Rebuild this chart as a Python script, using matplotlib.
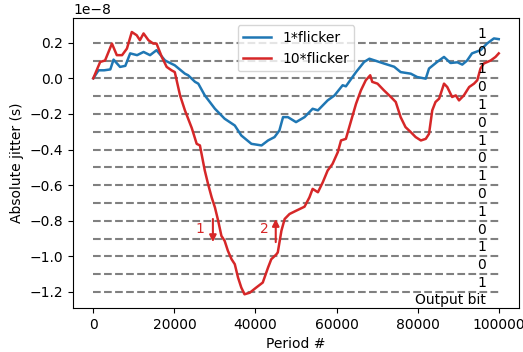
import matplotlib
matplotlib.use("Agg")
import matplotlib.pyplot as plt
import numpy as np

# ---- data (jitter in units of 1e-8 s) ----
period_1x = [0, 1300, 2700, 4200, 5000, 6600, 7900, 9100, 10800, 12400, 14000,
             15600, 17700, 20100, 22600, 23400, 25100, 25900, 27500, 30000,
             32400, 34900, 36500, 39000, 41500, 43100, 44700, 45900, 46800,
             48000, 50000, 52100, 54100, 55400, 57800, 59500, 61500, 62300,
             64800, 66800, 68100, 69300, 71700, 74200, 75800, 78300, 79900,
             82000, 82800, 84800, 86500, 88100, 89800, 91000, 92200, 93400,
             95500, 97100, 98800, 100000]
jitter_1x = [0, 0.045, 0.045, 0.05, 0.105, 0.064, 0.07, 0.14, 0.13, 0.148, 0.13,
             0.158, 0.10, 0.073, 0.026, 0.017, -0.02, -0.03, -0.096, -0.171,
             -0.227, -0.265, -0.321, -0.368, -0.377, -0.349, -0.33, -0.293, -0.218,
             -0.218, -0.246, -0.218, -0.171, -0.18, -0.124, -0.096, -0.039, -0.045,
             0.035, 0.092, 0.11, 0.101, 0.083, 0.065, 0.035, 0.026, 0.007,
             -0.002, 0.055, 0.092, 0.12, 0.086, 0.09, 0.077, 0.10, 0.14,
             0.158, 0.195, 0.224, 0.22]

period_10x = [0, 1700, 2900, 4600, 5800, 7100, 8300, 9500, 10700, 11500, 12400,
              13600, 14800, 15600, 16900, 18100, 19300, 20100, 21400, 22600,
              24300, 25500, 26300, 27500, 28300, 29200, 30000, 30800, 31600,
              32400, 33200, 34100, 34900, 35700, 36500, 37300, 38600, 40200,
              41800, 43100, 43900, 45100, 45500, 46400, 47200, 48400, 50000,
              52100, 53300, 54100, 55400, 56600, 57800, 59000, 60300, 61100,
              62300, 63600, 64800, 66000, 67200, 68300, 68800, 70100, 71700,
              73400, 74600, 75800, 77000, 78300, 79500, 80800, 82000, 82800,
              83600, 84400, 85300, 86500, 87300, 88500, 89400, 90200, 91400,
              92700, 93900, 94700, 95500, 96300, 98000, 99200, 100000]
jitter_10x = [0, 0.092, 0.10, 0.195, 0.13, 0.13, 0.167, 0.26, 0.242, 0.214, 0.252,
              0.214, 0.195, 0.195, 0.12, 0.064, 0.045, 0.035, -0.096, -0.18,
              -0.28, -0.368, -0.377, -0.518, -0.593, -0.669, -0.725, -0.8, -0.885,
              -0.913, -0.969, -1.016, -1.044, -1.119, -1.175, -1.213, -1.204, -1.175,
              -1.147, -1.063, -1.016, -0.99, -0.978, -0.856, -0.79, -0.762, -0.744,
              -0.721, -0.669, -0.621, -0.64, -0.584, -0.518, -0.481, -0.415, -0.349,
              -0.34, -0.237, -0.143, -0.068, -0.011, 0.017, -0.02, -0.03, -0.068,
              -0.105, -0.133, -0.218, -0.274, -0.302, -0.33, -0.349, -0.34, -0.312,
              -0.18, -0.133, -0.114, -0.03, -0.049, -0.105, -0.096, -0.124, -0.096,
              -0.049, -0.03, -0.011, 0.055, 0.083, 0.10, 0.12, 0.14]

thresholds = [0.2, 0.1, 0.0, -0.1, -0.2, -0.3, -0.4, -0.5, -0.6, -0.7, -0.8,
              -0.9, -1.0, -1.1, -1.2]
bits = ["1", "0", "1", "0", "1", "0", "1", "0", "1", "0", "1", "0", "1", "0", "1"]
bit_levels = [0.25, 0.15, 0.05, -0.05, -0.15, -0.25, -0.35, -0.45, -0.55, -0.65,
              -0.75, -0.85, -0.95, -1.05, -1.15]

SCALE = 1e-8
BLUE = "#1f77b4"
RED = "#d62728"

# ==================================================

fig = plt.figure(figsize=(5.23, 3.52), dpi=100)
ax = fig.add_axes([0.1396, 0.125, 0.8528, 0.823])

for t in thresholds:
    ax.plot([0, 100000], [t * SCALE, t * SCALE], ls="--", color="gray", lw=1.5)

ax.plot(period_1x, np.array(jitter_1x) * SCALE, color=BLUE, lw=1.8, label="1*flicker")
ax.plot(period_10x, np.array(jitter_10x) * SCALE, color=RED, lw=1.8, label="10*flicker")

for b, lvl in zip(bits, bit_levels):
    ax.text(96900, lvl * SCALE, b, ha="right", va="center", fontsize=10)
ax.text(96900, -1.245 * SCALE, "Output bit", ha="right", va="center", fontsize=10)

# arrows marking the two crossings
ax.annotate("", xy=(29500, -0.92 * SCALE), xytext=(29500, -0.79 * SCALE),
            arrowprops=dict(arrowstyle="-|>", color=RED, lw=1.5, shrinkA=0, shrinkB=0))
ax.text(26300, -0.845 * SCALE, "1", color=RED, ha="center", va="center", fontsize=10)
ax.annotate("", xy=(45000, -0.79 * SCALE), xytext=(45000, -0.92 * SCALE),
            arrowprops=dict(arrowstyle="-|>", color=RED, lw=1.5, shrinkA=0, shrinkB=0))
ax.text(42300, -0.845 * SCALE, "2", color=RED, ha="center", va="center", fontsize=10)

ax.set_xlim(-5000, 105000)
ax.set_ylim(-1.29 * SCALE, 0.337 * SCALE)
ax.set_yticks(np.array([0.2, 0.0, -0.2, -0.4, -0.6, -0.8, -1.0, -1.2]) * SCALE)
ax.set_xticks([0, 20000, 40000, 60000, 80000, 100000])
ax.set_xlabel("Period #")
ax.set_ylabel("Absolute jitter (s)")
ax.legend(loc="upper center")

fig.savefig("out.png", dpi=100)
